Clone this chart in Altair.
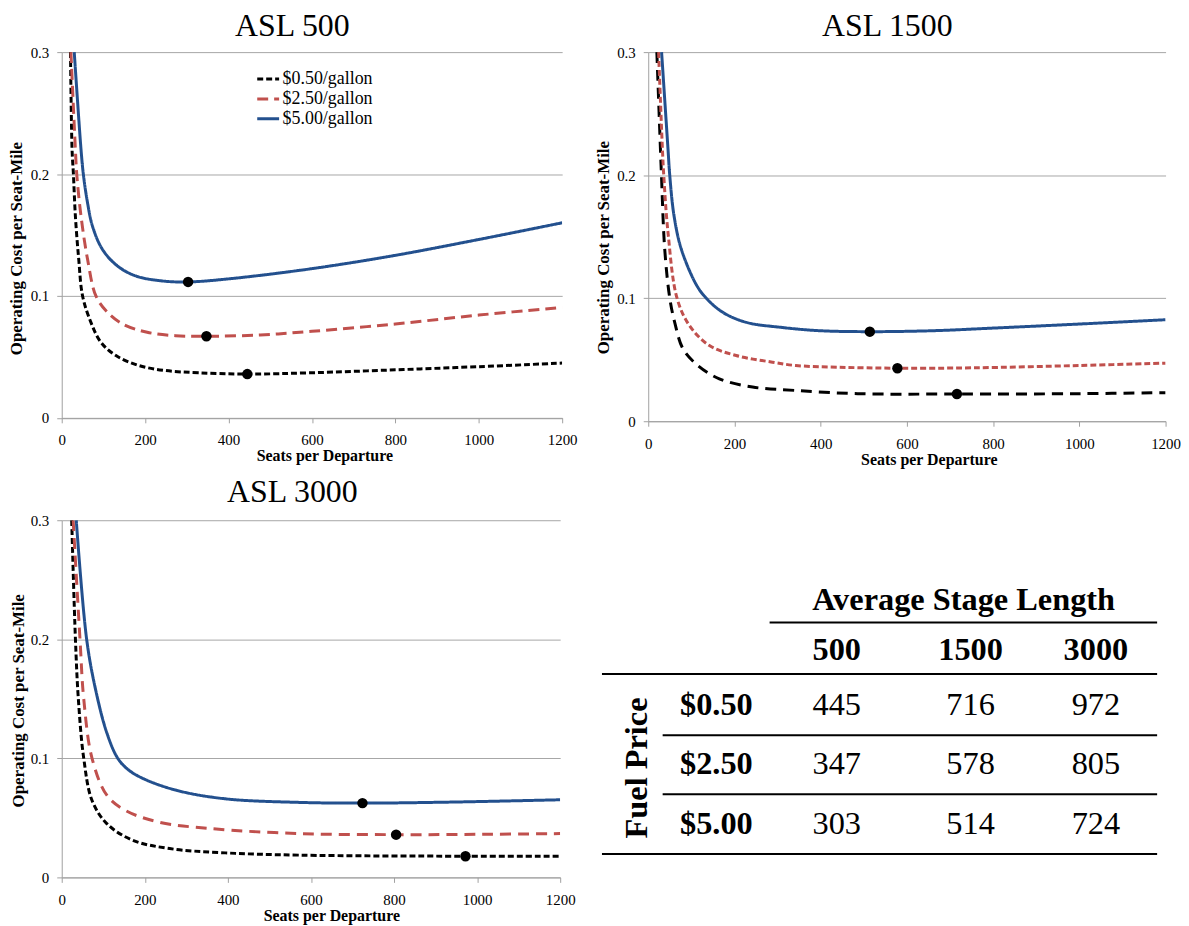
import altair as alt
import pandas as pd

FONT = "Liberation Serif"
SERIES = ["$0.50/gallon", "$2.50/gallon", "$5.00/gallon"]
COLORS = ["#000000", "#C0504D", "#23508E"]

# ---------------- ASL 500 ----------------
asl500_seats_050 = [21, 24.8, 28, 32.8, 40.8, 50, 70, 94, 130, 185, 249, 328, 446, 600, 800, 1000, 1200]
asl500_cost_050 = [0.3, 0.22, 0.2, 0.1653, 0.13, 0.1, 0.0783, 0.062, 0.0511, 0.0429, 0.0388, 0.037, 0.0359, 0.037, 0.0394, 0.042, 0.0449]
asl500_seats_250 = [22, 32.8, 36, 46.3, 62, 82, 110, 146, 205, 273, 347, 476, 600, 800, 1000, 1200]
asl500_cost_250 = [0.3, 0.22, 0.2, 0.1653, 0.13, 0.1, 0.0865, 0.077, 0.0702, 0.0674, 0.0669, 0.068, 0.071, 0.077, 0.0843, 0.0906]
asl500_seats_500 = [30, 46.3, 51.8, 60.6, 74, 98, 134, 177.5, 241, 303, 400, 600, 800, 1000, 1200]
asl500_cost_500 = [0.3, 0.22, 0.2, 0.179, 0.157, 0.138, 0.1245, 0.1164, 0.1123, 0.1115, 0.114, 0.1224, 0.1333, 0.1463, 0.160]

# ---------------- ASL 1500 ----------------
asl1500_seats_050 = [20, 28.4, 30.7, 38.3, 50, 61.4, 80.7, 115, 165, 242, 342, 486, 716, 1000, 1200]
asl1500_cost_050 = [0.3, 0.2205, 0.2, 0.1396, 0.1, 0.0804, 0.0588, 0.0453, 0.0345, 0.0278, 0.025, 0.0224, 0.0221, 0.0224, 0.0232]
asl1500_seats_250 = [24, 33, 36, 46, 66.8, 96, 142, 204, 288, 342, 441, 578, 752, 1000, 1200]
asl1500_cost_250 = [0.3, 0.2205, 0.2, 0.153, 0.1, 0.0776, 0.0615, 0.0534, 0.048, 0.0453, 0.0439, 0.0431, 0.0434, 0.0453, 0.0472]
asl1500_seats_500 = [31, 46, 49.9, 60, 77, 111.5, 134.6, 173, 227, 308, 397, 514, 663, 800, 1000, 1200]
asl1500_cost_500 = [0.3, 0.2205, 0.2, 0.1666, 0.1396, 0.111, 0.1, 0.0885, 0.0804, 0.0763, 0.0736, 0.0728, 0.0736, 0.0757, 0.079, 0.0825]

# ---------------- ASL 3000 ----------------
asl3000_seats_050 = [24, 33, 40, 53, 73, 109, 171, 260, 394, 572, 970, 1200]
asl3000_cost_050 = [0.3, 0.2, 0.15, 0.1, 0.0646, 0.045, 0.0312, 0.0242, 0.0206, 0.0187, 0.0178, 0.0178]
asl3000_seats_250 = [27.5, 44, 53, 73, 109, 153, 233, 358, 572, 805, 1017, 1200]
asl3000_cost_250 = [0.3, 0.2, 0.15, 0.1, 0.0688, 0.0563, 0.0465, 0.041, 0.0368, 0.0359, 0.0362, 0.0368]
asl3000_seats_500 = [35, 60, 82, 109, 135, 160, 198, 278, 394, 572, 724, 928, 1200]
asl3000_cost_500 = [0.3, 0.2, 0.157, 0.121, 0.1, 0.0905, 0.0827, 0.073, 0.066, 0.063, 0.0624, 0.0632, 0.0652]

# ---------------- optimum table ----------------
stage_lengths = ["500", "1500", "3000"]
fuel_prices = ["$0.50", "$2.50", "$5.00"]
optimal_seats = [[445, 716, 972], [347, 578, 805], [303, 514, 724]]  # rows: fuel price, cols: stage length
optimal_cost = {
    "500": [0.0359, 0.0669, 0.1115],
    "1500": [0.0221, 0.0431, 0.0728],
    "3000": [0.0178, 0.0359, 0.0624],
}


def panel(title, curves, asl_idx, w, h, dashes, title_x, title_y, ytitle_pad, legend, title_offset):
    rows = []
    for name, (sx, cy) in zip(SERIES, curves):
        for s, c in zip(sx, cy):
            rows.append({"seats": s, "cost": c, "series": name})
    df = pd.DataFrame(rows)
    key = stage_lengths[asl_idx]
    dot_df = pd.DataFrame({
        "seats": [optimal_seats[j][asl_idx] for j in range(3)],
        "cost": optimal_cost[key],
        "series": SERIES,
    })
    x = alt.X("seats:Q", scale=alt.Scale(domain=[0, 1200], nice=False),
              axis=alt.Axis(values=[0, 200, 400, 600, 800, 1000, 1200], format="d",
                            title="Seats per Departure", grid=False, labelFlush=False,
                            labelPadding=10, titlePadding=0, titleFontSize=16,
                            titleX=title_x))
    y = alt.Y("cost:Q", scale=alt.Scale(domain=[0, 0.3], nice=False),
              axis=alt.Axis(values=[0, 0.1, 0.2, 0.3], format=".1~f",
                            title="Operating Cost per Seat-Mile", grid=True,
                            labelPadding=8, titlePadding=ytitle_pad, titleFontSize=17,
                            titleY=title_y))
    lines = alt.Chart(df).mark_line(strokeWidth=3, interpolate="catmull-rom", clip=True).encode(
        x=x, y=y,
        color=alt.Color("series:N", scale=alt.Scale(domain=SERIES, range=COLORS), legend=legend),
        strokeDash=alt.StrokeDash("series:N", scale=alt.Scale(domain=SERIES, range=dashes), legend=legend),
        order=alt.Order("seats:Q"),
    )
    dots = alt.Chart(dot_df).mark_circle(size=110, color="black", opacity=1).encode(x=x, y=y)
    return alt.layer(lines, dots).properties(
        width=w, height=h,
        title=alt.TitleParams(title, fontSize=32, font=FONT, fontWeight="normal", offset=title_offset,
                              color="black", frame="bounds", anchor="middle"),
    )


legend1 = alt.Legend(orient="none", legendX=195, legendY=17, title=None,
                     symbolType="stroke", symbolSize=484, symbolStrokeWidth=3,
                     labelFont=FONT, labelFontSize=18, labelColor="black",
                     labelOffset=2, rowPadding=0, clipHeight=20, padding=0)

p1 = panel("ASL 500",
           [(asl500_seats_050, asl500_cost_050), (asl500_seats_250, asl500_cost_250),
            (asl500_seats_500, asl500_cost_500)],
           0, 503, 367.6, [[6, 3], [11, 6], [1, 0]], 264, 197, 4.6, legend1, 2)
p2 = panel("ASL 1500",
           [(asl1500_seats_050, asl1500_cost_050), (asl1500_seats_250, asl1500_cost_250),
            (asl1500_seats_500, asl1500_cost_500)],
           1, 520, 371, [[11, 7], [6, 3], [1, 0]], 282, 196, 4.6, None, 2)
p3 = panel("ASL 3000",
           [(asl3000_seats_050, asl3000_cost_050), (asl3000_seats_250, asl3000_cost_250),
            (asl3000_seats_500, asl3000_cost_500)],
           2, 501, 359, [[6, 3], [11, 7], [1, 0]], 271, 181, 2.6, None, 4)

# ---------------- table ----------------
txt_rows = [{"col": 3, "row": 0, "text": "Average Stage Length", "kind": "title"}]
for i, sl in enumerate(stage_lengths):
    txt_rows.append({"col": 2 + i, "row": 1, "text": sl, "kind": "head"})
for j, fp in enumerate(fuel_prices):
    txt_rows.append({"col": 1, "row": 2 + j, "text": fp, "kind": "head"})
    for i in range(3):
        txt_rows.append({"col": 2 + i, "row": 2 + j, "text": str(optimal_seats[j][i]), "kind": "value"})
txt_rows.append({"col": 0, "row": 3, "text": "Fuel Price", "kind": "side"})
tdf = pd.DataFrame(txt_rows)

rule_df = pd.DataFrame({
    "x": [1.5, -0.5, 0.5, 0.5, -0.5],
    "x2": [4.5, 4.5, 4.5, 4.5, 4.5],
    "y": [0.5, 1.5, 2.5, 3.5, 4.5],
})

xs = alt.Scale(domain=[-0.5, 0, 0.5, 1, 1.5, 2, 3, 4, 4.5],
               range=[17, 52, 78, 132, 185.5, 253, 387.5, 513.5, 575], nice=False, zero=False)
ys = alt.Scale(domain=[0, 0.5, 1, 1.5, 2, 2.5, 3, 3.5, 4, 4.5],
               range=[90.5, 102.8, 140.5, 154.5, 195.5, 216.2, 255.5, 275.5, 315.5, 335.5],
               nice=False, zero=False)

TFS = 32.5
base_t = alt.Chart(tdf)
enc = dict(x=alt.X("col:Q", scale=xs, axis=None), y=alt.Y("row:Q", scale=ys, axis=None), text="text:N")
t_title = base_t.transform_filter(alt.datum.kind == "title").mark_text(
    font=FONT, fontSize=TFS, fontWeight="bold", baseline="alphabetic", align="center", dx=-7, color="black"
).encode(**enc)
t_head = base_t.transform_filter(alt.datum.kind == "head").mark_text(
    font=FONT, fontSize=TFS, fontWeight="bold", baseline="alphabetic", align="center", color="black"
).encode(**enc)
t_val = base_t.transform_filter(alt.datum.kind == "value").mark_text(
    font=FONT, fontSize=TFS, fontWeight="normal", baseline="alphabetic", align="center", color="black"
).encode(**enc)
t_side = base_t.transform_filter(alt.datum.kind == "side").mark_text(
    font=FONT, fontSize=TFS, fontWeight="bold", baseline="middle", align="center", angle=270, dx=6.5,
    color="black"
).encode(**enc)
t_rules = alt.Chart(rule_df).mark_rule(strokeWidth=2, color="black").encode(
    x=alt.X("x:Q", scale=xs, axis=None), x2="x2:Q", y=alt.Y("y:Q", scale=ys, axis=None))

table = alt.layer(t_rules, t_title, t_head, t_val, t_side).properties(width=590, height=359)

top = alt.hconcat(p1, p2, spacing=16.5).resolve_scale(color="independent", strokeDash="independent")
bottom = alt.hconcat(p3, table, spacing=10).resolve_scale(color="independent", strokeDash="independent")
chart = alt.vconcat(top, bottom, spacing=9.5).resolve_scale(
    color="independent", strokeDash="independent"
).properties(padding={"left": -1, "top": 0, "right": 0, "bottom": 0}).configure_view(
    stroke=None
).configure_axis(
    domainColor="#A0A0A0", tickColor="#A0A0A0", gridColor="#A6A6A6", tickSize=5,
    labelFont=FONT, labelFontSize=15, labelColor="black",
    titleFont=FONT, titleFontWeight="bold", titleColor="black",
    domainWidth=1, gridWidth=1, tickWidth=1,
)

chart.save("out.html", embed_options={"renderer": "svg", "actions": False})
